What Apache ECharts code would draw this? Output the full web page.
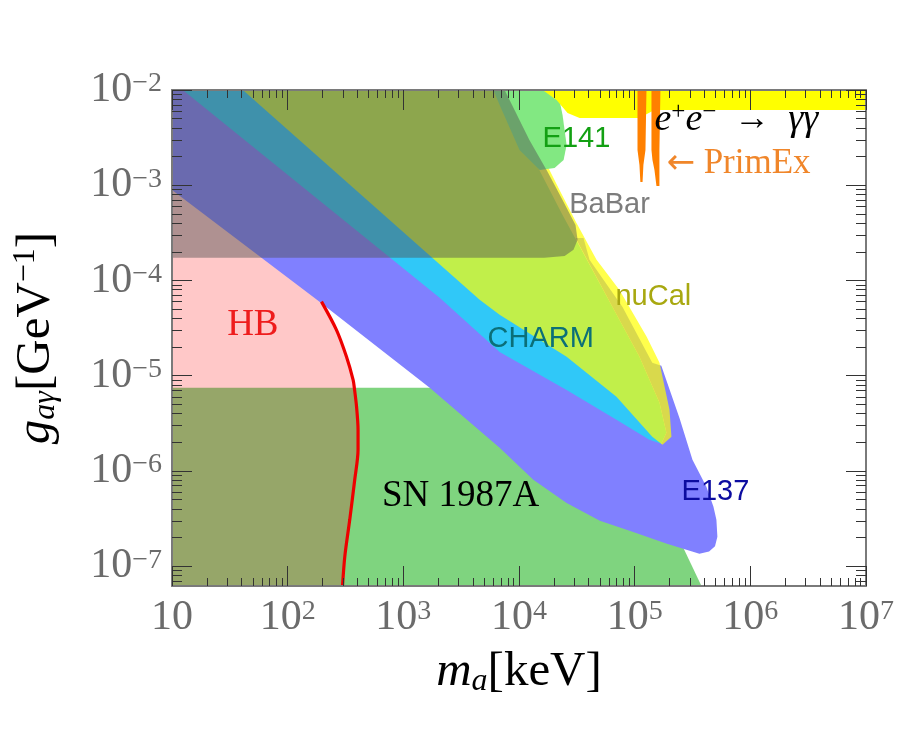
<!DOCTYPE html>
<html><head><meta charset="utf-8">
<script src="https://cdn.jsdelivr.net/npm/echarts@6/dist/echarts.min.js"></script>
<style>html,body{margin:0;padding:0;background:#fff}#c{width:900px;height:736px}</style>
</head><body><div id="c"></div>
<script>
// ---------------- data ----------------
const xRange = [10, 1e7];            // m_a [keV]
const yRange = [6.2e-8, 1e-2];       // g_a gamma [GeV^-1]
const xMajorTicks = [10, 1e2, 1e3, 1e4, 1e5, 1e6, 1e7];
const yMajorTicks = [1e-7, 1e-6, 1e-5, 1e-4, 1e-3, 1e-2];

const sn1987a = [[10,7.46e-6],[1760,7.46e-6],[7.39e4,8.09e-7],[2.44e5,1.90e-7],[3.78e5,6.2e-8],[10,6.2e-8]];
const hbTopLeft = [[10,1.45e-3],[197,9.0e-5]];
const hbCurve = [[196,6.0e-5],[264,3.03e-5],[322,1.59e-5],[368,9.06e-6],[377,7.46e-6],[394,4.75e-6],
                 [406,2.71e-6],[406,1.67e-6],[380,8.09e-7],[344,3.07e-7],[312,1.27e-7],[298,6.2e-8]];
const hbSnCorner = [[10,6.2e-8],[10,7.46e-6]];
const charm = [[11.7,1e-2],[6160,1e-2],[1.45e4,1.56e-3],[2.38e4,4.88e-4],[3.47e4,2.1e-4],[6.43e4,5.28e-5],
               [1.10e5,1.58e-5],[1.64e5,5.2e-6],[1.88e5,2.52e-6],[1.70e5,1.93e-6],[1.10e5,1.67e-6],
               [2.58e4,4.39e-6],[1690,3.86e-5],[10,7.85e-3]];
const e137 = [[10,1e-2],[12.4,1e-2],[2060,6.6e-5],[6800,1.78e-5],[2.58e4,7.1e-6],[6.96e4,3.45e-6],
              [1.34e5,2.13e-6],[1.70e5,1.93e-6],[1.88e5,2.52e-6],[1.64e5,5.2e-6],[1.10e5,1.58e-5],
              [6.43e4,5.28e-5],[3.08e4,2.8e-4],[3.61e4,2.8e-4],[4.07e4,1.65e-4],[7.85e4,5.28e-5],
              [1.42e5,1.37e-5],[1.70e5,1.27e-5],[2.44e5,3.61e-6],[3.16e5,1.31e-6],[4.17e5,6.83e-7],
              [4.80e5,4.2e-7],[5.09e5,3.07e-7],[5.19e5,2.04e-7],[4.95e5,1.62e-7],[4.40e5,1.43e-7],
              [3.63e5,1.35e-7],[1.9e5,1.72e-7],[9.57e4,2.30e-7],[5.0e4,3.0e-7],[2.58e4,4.6e-7],
              [1.33e4,8.1e-7],[6800,1.75e-6],[1690,7.46e-6],[179,6.26e-5],[10,8.93e-4]];
const nuCal = [[41,1e-2],[4570,6.26e-5],[6800,4.36e-5],[2.58e4,1.58e-5],[6.96e4,6.0e-6],[1.42e5,2.29e-6],
               [1.74e5,1.88e-6],[2.08e5,2.29e-6],[2.0e5,4.39e-6],[1.64e5,1.37e-5],[1.27e5,2.56e-5],
               [7.39e4,7.97e-5],[4.68e4,1.65e-4],[3.14e4,4.02e-4],[2.24e4,8.93e-4],[1.36e4,2.99e-3],[8290,1e-2]];
const e141 = [[6000,1e-2],[2.15e4,1e-2],[2.38e4,5.47e-3],[2.58e4,2.65e-3],[2.43e4,1.84e-3],[2.03e4,1.52e-3],
              [1.51e4,1.45e-3],[1.01e4,2.35e-3],[6800,6.96e-3]];
const babar = [[10,1e-2],[7510,1e-2],[1.23e4,2.99e-3],[1.77e4,1.38e-3],[2.38e4,7.0e-4],[3.08e4,3.83e-4],
               [3.21e4,2.67e-4],[2.96e4,2.1e-4],[2.48e4,1.81e-4],[1.66e4,1.73e-4],[10,1.73e-4]];
const eeGammaGamma = [[1.6e4,1e-2],[1e7,1e-2],[1e7,6.17e-3],[1.48e5,6.17e-3],[1.1e5,5.08e-3],
                      [3.34e4,5.08e-3],[2.63e4,5.74e-3],[2.11e4,7.85e-3]];
const primEx1 = [[1.058e5,1e-2],[1.265e5,1e-2],[1.24e5,2.35e-3],[1.19e5,1.63e-3],[1.17e5,1.08e-3],
                 [1.12e5,1.08e-3],[1.10e5,1.63e-3],[1.058e5,2.35e-3]];
const primEx2 = [[1.397e5,1e-2],[1.67e5,1e-2],[1.637e5,2.35e-3],[1.637e5,9.83e-4],[1.543e5,9.83e-4],
                 [1.483e5,1.45e-3],[1.425e5,1.84e-3],[1.397e5,2.35e-3]];
const labelNames = ['E141','BaBar','nuCal','CHARM','E137','HB','SN 1987A','eegg','PrimEx'];
const labelX = [3.14e4, 6.06e4, 1.45e5, 1.54e4, 4.99e5, 50, 3130, 7.57e5, 7.9e5];
const labelY = [3.06e-3, 6.21e-4, 6.73e-5, 2.44e-5, 6.05e-7, 3.42e-5, 5.49e-7, 4.84e-3, 1.67e-3];

// ---------------- helpers ----------------
const minorX = [], minorY = [];
for (let n = 1; n < 7; n++) for (let k = 2; k < 10; k++) minorX.push(k * Math.pow(10, n));
for (let n = -8; n < -2; n++) for (let k = 2; k < 10; k++) { const v = k * Math.pow(10, n); if (v > yRange[0] && v < yRange[1]) minorY.push(v); }

const SERIF = 'Liberation Serif', SANS = 'Liberation Sans';
const TICKC = '#333', FRAMEC = '#7a7a7a', LABC = '#6b6b6b';
const labRich = {
  b: { fontFamily: SERIF, fontSize: 42, color: LABC, lineHeight: 40 },
  s: { fontFamily: SERIF, fontSize: 28, color: LABC, lineHeight: 24, verticalAlign: 'top' }
};
function expOf(v) { return Math.round(Math.log10(v)); }
function xFmt(v) { const e = expOf(v); return e === 1 ? '{b|10}' : '{b|10}{s|' + e + '}'; }
function yFmt(v) { const e = expOf(v); return '{b|10}{s|' + (e < 0 ? '\u2212' + (-e) : e) + '}'; }

function axis(kind, pos, ticks, len, line, label, extra) {
  const range = kind === 'x' ? xRange : yRange;
  return Object.assign({
    type: 'log', logBase: 10, min: range[0], max: range[1], position: pos, gridIndex: 0,
    axisLine: { show: line, onZero: false, lineStyle: { color: FRAMEC, width: 2 } },
    axisTick: { show: true, inside: true, length: len, customValues: ticks, lineStyle: { color: TICKC, width: 1 } },
    axisLabel: label ? { show: true, customValues: ticks, formatter: kind === 'x' ? xFmt : yFmt, rich: labRich,
      margin: kind === 'x' ? 12 : 10, hideOverlap: false, showMinLabel: true, showMaxLabel: true } : { show: false },
    splitLine: { show: false }, minorTick: { show: false }, minorSplitLine: { show: false }, z: 20
  }, extra || {});
}

function poly(pts, style, z) {
  return { type: 'custom', coordinateSystem: 'cartesian2d', xAxisIndex: 0, yAxisIndex: 0, clip: true, silent: true,
    z: z, data: [pts[0]],
    renderItem: function (params, api) {
      return { type: 'polygon', shape: { points: pts.map(p => api.coord(p)) }, style: style };
    } };
}

const labelStyles = {
  'E141':   { fontFamily: SANS, fontSize: 29, color: '#13a013' },
  'BaBar':  { fontFamily: SANS, fontSize: 29, color: '#7c7c7c' },
  'nuCal':  { fontFamily: SANS, fontSize: 29, color: '#a8a810' },
  'CHARM':  { fontFamily: SANS, fontSize: 29, color: '#0b6f78' },
  'E137':   { fontFamily: SANS, fontSize: 29, color: '#0c0ca0' },
  'HB':     { fontFamily: SERIF, fontSize: 37, color: '#ee1c1c' },
  'SN 1987A': { fontFamily: SERIF, fontSize: 37, color: '#000' },
  'eegg':   { formatter: '{e|e}{p|+}{e|e}{p|\u2212}{n|  \u2192  }{e|\u03b3\u03b3}',
              rich: { e: { fontFamily: SERIF, fontStyle: 'italic', fontSize: 38, color: '#000', lineHeight: 40 },
                      p: { fontFamily: SERIF, fontSize: 25, color: '#000', lineHeight: 26, verticalAlign: 'top' },
                      n: { fontFamily: SERIF, fontSize: 36, color: '#000', lineHeight: 40 } } },
  'PrimEx': { formatter: '{a|\u2190}{t| PrimEx}',
              rich: { a: { fontFamily: 'DejaVu Sans', fontSize: 34, color: '#f0862a', lineHeight: 40 },
                      t: { fontFamily: SERIF, fontSize: 35, color: '#f0862a', lineHeight: 40 } } }
};
const labelData = labelNames.map((n, i) => ({
  value: [labelX[i], labelY[i]],
  itemStyle: { opacity: 1 },
  label: Object.assign({ show: true, position: 'inside', formatter: n, opacity: 1 }, labelStyles[n])
}));

const titleRich = {
  i: { fontFamily: SERIF, fontStyle: 'italic', fontSize: 49, lineHeight: 52, color: '#000' },
  sub: { fontFamily: SERIF, fontStyle: 'italic', fontSize: 32, lineHeight: 30, color: '#000', verticalAlign: 'bottom' },
  sup: { fontFamily: SERIF, fontSize: 32, lineHeight: 30, color: '#000', verticalAlign: 'top' },
  r: { fontFamily: SERIF, fontSize: 49, lineHeight: 52, color: '#000' }
};

const chart = echarts.init(document.getElementById('c'), null, { renderer: 'canvas' });
chart.setOption({
  backgroundColor: '#fff',
  animation: false,
  grid: { left: 172, right: 34, top: 90, bottom: 150, containLabel: false, outerBoundsMode: 'none' },
  xAxis: [
    axis('x', 'bottom', xMajorTicks, 20, true, true, {
      name: '{i|m}{sub|a}{r|[keV]}', nameLocation: 'middle', nameGap: 60,
      nameTextStyle: { rich: titleRich } }),
    axis('x', 'bottom', minorX, 8, false, false),
    axis('x', 'top', xMajorTicks, 20, true, false),
    axis('x', 'top', minorX, 8, false, false)
  ],
  yAxis: [
    axis('y', 'left', yMajorTicks, 20, true, true, {
      name: '{i|g}{sub|a\u03b3}{r|[GeV}{sup|\u22121}{r|]}', nameLocation: 'middle', nameGap: 110, nameRotate: 90,
      nameTextStyle: { rich: titleRich } }),
    axis('y', 'left', minorY, 10, false, false),
    axis('y', 'right', yMajorTicks, 20, true, false),
    axis('y', 'right', minorY, 10, false, false)
  ],
  series: [
    poly(sn1987a, { fill: '#7fd47f' }, 1),
    poly(hbTopLeft.concat(hbCurve, [hbSnCorner[0]]), { fill: '#ffc8c8' }, 2),
    poly(hbCurve.slice(4).concat(hbSnCorner), { fill: '#96a669' }, 3),
    poly(charm, { fill: '#30c8f8' }, 4),
    poly(e137, { fill: '#8080ff' }, 5),
    poly(nuCal, { fill: 'rgba(255,255,0,0.7)' }, 6),
    poly(e141, { fill: '#82e882' }, 7),
    poly(babar, { fill: 'rgba(80,80,80,0.46)' }, 8),
    poly(eeGammaGamma, { fill: '#ffff00' }, 9),
    poly(primEx1, { fill: '#ff8000' }, 10),
    poly(primEx2, { fill: '#ff8000' }, 10),
    { type: 'line', data: hbCurve, xAxisIndex: 0, yAxisIndex: 0, showSymbol: false, smooth: 0.3, silent: true,
      lineStyle: { color: '#ee0000', width: 3.2 }, z: 11, clip: true },
    { type: 'scatter', data: labelData, xAxisIndex: 0, yAxisIndex: 0, symbolSize: 0, silent: true, z: 12,
      itemStyle: { opacity: 1 } }
  ]
});
</script></body></html>
